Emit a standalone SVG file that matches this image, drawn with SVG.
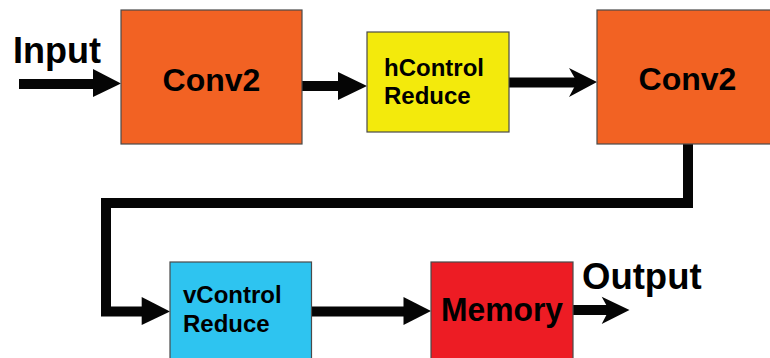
<svg xmlns="http://www.w3.org/2000/svg" width="770" height="358" viewBox="0 0 770 358">
<style>
.box{stroke:#4a4a4a;stroke-width:1.2}
.conv{fill:#F26223}
.hc{fill:#F3EA0C}
.vc{fill:#2EC4F0}
.mem{fill:#ED1C24}
.t{font-family:"Liberation Sans",Arial,sans-serif;font-weight:bold;fill:#000}
.line{fill:none;stroke:#050505;stroke-width:10;stroke-linejoin:miter;stroke-linecap:butt}
.head{fill:#050505}
</style>
<rect width="770" height="358" fill="#fff"/>
<g id="connectors">
<path class="line" d="M19,84 H95"/>
<polygon class="head" points="93,69 121,83.5 93,97"/>
<path class="line" d="M302,86 H340"/>
<polygon class="head" points="338,72 367,86 338,100"/>
<path class="line" d="M509,82.5 H579"/>
<polygon class="head" points="569,68 597,82 569,97 577,82"/>
<path class="line" d="M688,144 V203 H106 V311.5 H144"/>
<polygon class="head" points="141.7,297 170,311.5 141.7,325"/>
<path class="line" d="M311,311.5 H405"/>
<polygon class="head" points="403.5,297 431,311 403.5,325"/>
<path class="line" d="M573,310 H610"/>
<polygon class="head" points="601.7,296.7 629.5,310 601.7,324 609,310"/>
</g>
<g id="input-label"><text class="t" x="13" y="63" font-size="36">Input</text></g>
<g id="output-label"><text class="t" x="582" y="289" font-size="36.5">Output</text></g>
<g id="conv2a">
<rect class="box conv" x="121" y="10" width="181" height="134"/>
<text class="t" x="211.5" y="91" font-size="32" text-anchor="middle">Conv2</text>
</g>
<g id="hcontrol">
<rect class="box hc" x="367" y="32" width="142" height="100"/>
<text class="t" x="384" y="76" font-size="24">hControl</text>
<text class="t" x="384" y="104" font-size="24">Reduce</text>
</g>
<g id="conv2b">
<rect class="box conv" x="597" y="10" width="181" height="134"/>
<text class="t" x="687.5" y="89.5" font-size="32" text-anchor="middle">Conv2</text>
</g>
<g id="vcontrol">
<rect class="box vc" x="170" y="262" width="141.5" height="100"/>
<text class="t" x="183" y="303" font-size="24">vControl</text>
<text class="t" x="183" y="332" font-size="24">Reduce</text>
</g>
<g id="memory">
<rect class="box mem" x="431" y="262" width="142" height="100"/>
<text class="t" x="441" y="321" font-size="33" textLength="122" lengthAdjust="spacingAndGlyphs">Memory</text>
</g>
</svg>
